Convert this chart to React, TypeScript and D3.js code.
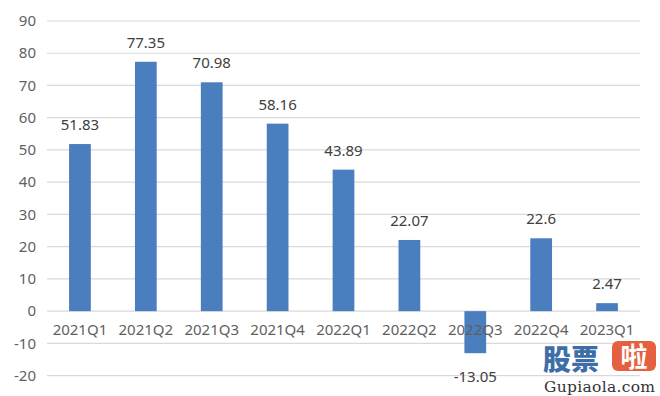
import React from "react";
import * as d3 from "d3";

const categories = ["2021Q1", "2021Q2", "2021Q3", "2021Q4", "2022Q1", "2022Q2", "2022Q3", "2022Q4", "2023Q1"];
const values = [51.83, 77.35, 70.98, 58.16, 43.89, 22.07, -13.05, 22.6, 2.47];
const valueLabels = ["51.83", "77.35", "70.98", "58.16", "43.89", "22.07", "-13.05", "22.6", "2.47"];
const yTicks = [-20, -10, 0, 10, 20, 30, 40, 50, 60, 70, 80, 90];

const W = 660;
const H = 396;
const FONT = "'Noto Sans', 'Open Sans', sans-serif";

export default function App() {
  const x = d3.scaleBand<string>().domain(categories).range([47, 640]).paddingInner(0.67).paddingOuter(0.335);
  const y = d3.scaleLinear().domain([-20, 90]).range([375.6, 21]);
  const bw = x.bandwidth();

  return (
    <svg width={W} height={H} style={{ position: "absolute", left: 0, top: 0, background: "#fff" }}>
      <rect x={0} y={0} width={W} height={H} fill="#fff" />
      {yTicks.map((t) => (
        <g key={t}>
          <line x1={47} x2={640} y1={y(t)} y2={y(t)} stroke="#d9d9d9" strokeWidth={1.2} />
          <text x={36} y={y(t)} dy="0.35em" textAnchor="end" fontFamily={FONT} fontSize={15} fill="#5f5f5f">
            {t}
          </text>
        </g>
      ))}
      {values.map((v, i) => {
        const cx = (x(categories[i]) as number) + bw / 2;
        const top = y(Math.max(v, 0));
        const bot = y(Math.min(v, 0));
        return (
          <g key={categories[i]}>
            <rect x={cx - bw / 2} y={top} width={bw} height={bot - top} fill="#4A7EBF" />
          </g>
        );
      })}
      {categories.map((c) => (
        <text key={c} x={(x(c) as number) + bw / 2} y={335} textAnchor="middle" fontFamily={FONT} fontSize={15} fill="#5f5f5f">
          {c}
        </text>
      ))}
      {values.map((v, i) => {
        const cx = (x(categories[i]) as number) + bw / 2;
        const ly = v >= 0 ? y(v) - 14 : y(v) + 29;
        return (
          <text key={"l" + i} x={cx} y={ly} textAnchor="middle" fontFamily={FONT} fontSize={15} fill="#404040">
            {valueLabels[i]}
          </text>
        );
      })}
      <g>
        <text x={543} y={370} fontFamily="'Noto Sans CJK SC', sans-serif" fontWeight={900} fontSize={28} fill="#3d6ea8">
          股票
        </text>
        <rect x={612} y={341} width={44} height={30} rx={6} fill="#e4603f" />
        <text x={634} y={367} textAnchor="middle" fontFamily="'Noto Sans CJK SC', sans-serif" fontWeight={700} fontSize={27} fill="#fff">
          啦
        </text>
        <text x={544} y={392} fontFamily="'DejaVu Serif', serif" fontSize={15.5} fill="#333" textLength={111}>
          Gupiaola.com
        </text>
      </g>
    </svg>
  );
}
